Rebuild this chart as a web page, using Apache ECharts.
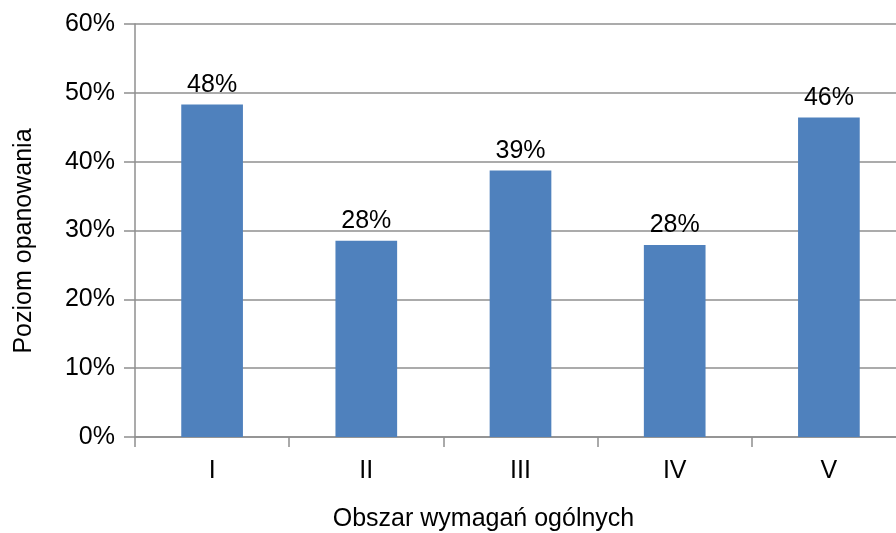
<!DOCTYPE html>
<html>
<head>
<meta charset="utf-8">
<script src="https://cdn.jsdelivr.net/npm/echarts@6/dist/echarts.min.js"></script>
<style>
    html, body { margin: 0; padding: 0; background: #fff; }
    #main { width: 896px; height: 533px; }
</style>
</head>
<body>
<div id="main"></div>
<script>
    // obszary wymagań i poziom opanowania (%)
    var categories = ['I', 'II', 'III', 'IV', 'V'];
    var values = [48.3, 28.5, 38.7, 27.9, 46.4];
    var valueLabels = ['48%', '28%', '39%', '28%', '46%'];

    var font = 'Liberation Sans, Arial, sans-serif';
    var gray = '#8f8f8f';

    var chart = echarts.init(document.getElementById('main'));

    var option = {
        animation: false,
        backgroundColor: '#fff',
        grid: {
            left: 135,
            top: 24,
            width: 771,
            bottom: 96,
            outerBoundsMode: 'none'
        },
        xAxis: {
            type: 'category',
            data: categories,
            name: 'Obszar wymagań ogólnych',
            nameLocation: 'middle',
            nameGap: 70,
            nameTextStyle: { color: '#000', fontFamily: font, fontSize: 25, padding: [0, 74, 0, 0] },
            axisLine: { lineStyle: { color: gray, width: 1.5 } },
            axisTick: { show: true, length: 10, alignWithLabel: false, lineStyle: { color: gray, width: 1.5 } },
            axisLabel: { color: '#000', fontFamily: font, fontSize: 25, margin: 22 }
        },
        yAxis: {
            type: 'value',
            min: 0,
            max: 60,
            interval: 10,
            name: 'Poziom opanowania',
            nameLocation: 'middle',
            nameGap: 98,
            nameTextStyle: { color: '#000', fontFamily: font, fontSize: 25, padding: [0, 21, 0, 0] },
            axisLine: { show: true, lineStyle: { color: gray, width: 1.5 } },
            axisTick: { show: true, length: 11, lineStyle: { color: gray, width: 1.5 } },
            axisLabel: { color: '#000', fontFamily: font, fontSize: 25, margin: 20, formatter: '{value}%' },
            splitLine: { lineStyle: { color: gray, width: 1.5 } }
        },
        series: [{
            type: 'bar',
            data: values,
            barWidth: '40%',
            itemStyle: { color: '#4f81bd' },
            label: {
                show: true,
                position: 'top',
                distance: 7,
                color: '#000',
                fontFamily: font,
                fontSize: 25,
                formatter: function (p) { return valueLabels[p.dataIndex]; }
            }
        }]
    };
    chart.setOption(option);
</script>
</body>
</html>
